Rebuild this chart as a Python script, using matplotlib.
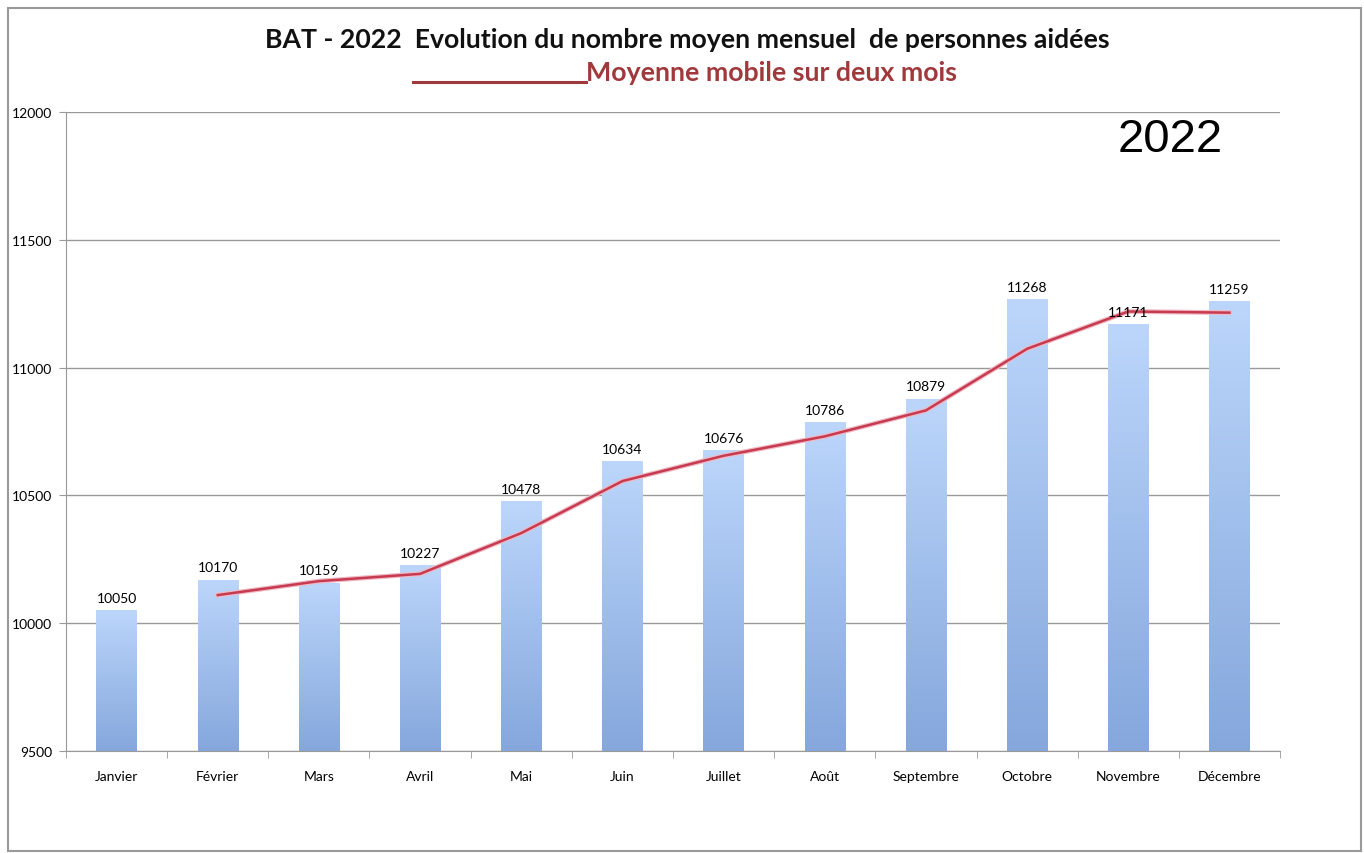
import numpy as np
import matplotlib
matplotlib.use('Agg')
import matplotlib.pyplot as plt
import matplotlib.patheffects as pe
from matplotlib.colors import LinearSegmentedColormap
from matplotlib.patches import Rectangle
from matplotlib.lines import Line2D

# data
mois = ['Janvier', 'Février', 'Mars', 'Avril', 'Mai', 'Juin', 'Juillet',
        'Août', 'Septembre', 'Octobre', 'Novembre', 'Décembre']
aides = [10050, 10170, 10159, 10227, 10478, 10634, 10676, 10786, 10879,
         11268, 11171, 11259]
moyenne_mobile = [10110, 10164.5, 10193, 10352.5, 10556, 10655, 10731,
                  10832.5, 11073.5, 11219.5, 11215]

plt.rcParams['font.family'] = ['Lato', 'DejaVu Sans']

fig = plt.figure(figsize=(13.64, 8.54), dpi=100)
ax = fig.add_axes([66/1364, 1-752/854, (1280-66)/1364, (752-113)/854])

x = np.arange(len(mois))
bars = ax.bar(x, aides, width=0.4, color='none', zorder=2)

# vertical gradient in each bar, light blue at top, darker at bottom
cmap = LinearSegmentedColormap.from_list('bleu', ['#85a7dc', '#bcd6fb'])
grad = np.linspace(0, 1, 256).reshape(-1, 1)
for b in bars:
    x0, w, h = b.get_x(), b.get_width(), b.get_height()
    im = ax.imshow(grad, cmap=cmap, aspect='auto', origin='lower',
                   extent=[x0, x0 + w, 9500, h], zorder=2)
    im.set_clip_path(b)

for xi, v in zip(x, aides):
    ax.text(xi, v + 25, str(v), ha='center', va='bottom', fontsize=10, zorder=4)

ax.plot(x[1:], moyenne_mobile, color='#c63b50', lw=1.8, zorder=3,
        path_effects=[pe.Stroke(linewidth=3.5, foreground='#f0b8c4'), pe.Normal()])

ax.set_xlim(-0.5, len(mois) - 0.5)
ax.set_ylim(9500, 12000)
ax.set_yticks(np.arange(9500, 12001, 500))
ax.set_xticks(x)
ax.set_xticklabels(mois, fontsize=10)
ax.set_xticks(np.arange(-0.5, len(mois)), minor=True)
ax.tick_params(axis='x', which='major', length=0, pad=14)
ax.tick_params(axis='x', which='minor', length=5, color='#999999', direction='out')
ax.tick_params(axis='y', length=5, color='#999999', labelsize=10, pad=5)
ax.grid(axis='y', color='#999999', lw=1, zorder=0)
ax.set_axisbelow(True)
for s in ['top', 'right']:
    ax.spines[s].set_visible(False)
for s in ['left', 'bottom']:
    ax.spines[s].set_color('#999999')

fig.text(687/1364, 1-40/854, 'BAT - 2022  Evolution du nombre moyen mensuel  de personnes aidées',
         ha='center', va='center', fontsize=19.2, fontweight='bold', color='#111111')
fig.text(586/1364, 1-73/854, 'Moyenne mobile sur deux mois',
         ha='left', va='center', fontsize=19.3, fontweight='bold', color='#a0393c')
fig.add_artist(Line2D([413/1364, 586/1364], [1-83/854, 1-83/854],
                      transform=fig.transFigure, color='#a0393c', lw=2.2))
fig.text(1170/1364, 1-140/854, '2022', ha='center', va='center', fontsize=34,
         family=['Liberation Sans', 'DejaVu Sans'], color='black')

fig.patches.append(Rectangle((8/1364, 2/854), (1361-8)/1364, (852-9)/854,
                             transform=fig.transFigure, fill=False,
                             edgecolor='#999999', lw=1.5))

fig.savefig('out.png', dpi=100)
